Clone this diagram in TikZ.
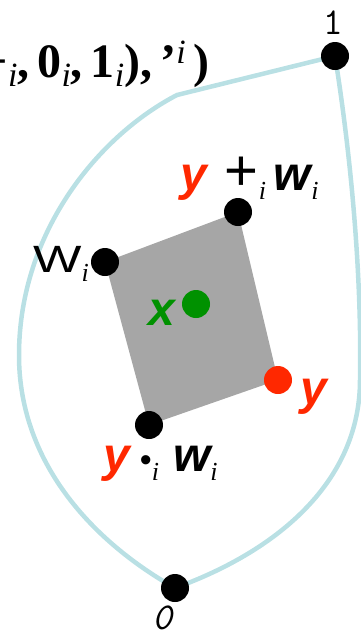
\documentclass[tikz,border=0pt]{standalone}
\usepackage{fontspec}
\setmainfont{Liberation Serif}
\setsansfont{Liberation Sans}
\usepackage{tikz}
\usetikzlibrary{backgrounds}
\definecolor{vred}{RGB}{255,40,0}
\definecolor{vgreen}{RGB}{0,145,0}
\definecolor{quadgray}{RGB}{166,166,166}
\definecolor{curveblue}{RGB}{185,224,228}
\newcommand{\isub}[2]{\raisebox{-#2}{\normalfont\fontsize{#1}{#1}\selectfont\itshape i}}
\newcommand{\vecy}{{\color{vred}\sffamily\bfseries\itshape y}}
\newcommand{\vecw}{{\sffamily\bfseries\itshape w}}

\begin{document}
\begin{tikzpicture}[
  x=1pt, y=-1pt,
  dot/.style={circle, fill=black, inner sep=0pt, minimum size=28pt},
  lbl/.style={inner sep=0pt, anchor=base west, font=\fontsize{48}{48}\selectfont},
  curve/.style={draw=curveblue, line width=4.5pt},
  quad/.style={fill=quadgray}
]
\useasboundingbox (0,0) rectangle (361,638);
\clip (0,0) rectangle (361,638);

\node[dot] (one) at (335,56) {};
\node[dot] (zero) at (175,588) {};
\node[dot] (wi) at (105,262) {};
\node[dot] (ypw) at (238,212) {};
\node[dot] (ytw) at (149,425) {};
\node[dot, fill=vred] (yvec) at (278,380) {};
\node[dot, fill=vgreen] (xvec) at (196,304) {};
\coordinate (kink) at (177,95);
\coordinate (leftmost) at (19,353);
\coordinate (rightmost) at (360,380);

\node[inner sep=0pt, anchor=base east, font=\fontsize{48}{48}\selectfont\bfseries] (title) at (210,77)
  {+\isub{34}{9pt},\hspace{8pt}0\isub{34}{9pt},\hspace{8pt}1\isub{34}{9pt}),\hspace{8pt}’\isub{34}{-14pt}\hspace{8pt})};

\node[inner sep=0pt, anchor=base, font=\fontsize{38}{38}\selectfont\ttfamily] (onelbl) at (333,34) {1};
\node[inner sep=0pt, anchor=base, font=\fontsize{38}{38}\selectfont\ttfamily\itshape] (zerolbl) at (162,629) {0};
\node[lbl, font=\fontsize{38}{38}\selectfont\sffamily] (wilbl) at (33,272) {\scalebox{1.35}[1]{W}\isub{26}{9pt}};
\node[lbl] (ypwlbl) at (180,190) {\vecy\hspace{18pt}{\sffamily\fontsize{58}{58}\selectfont +}\isub{26}{9pt}\hspace{8pt}\vecw\isub{26}{9pt}};
\node[lbl] (xlbl) at (148,325) {{\color{vgreen}\sffamily\bfseries\itshape x}};
\node[lbl] (ylbl) at (300,404) {\vecy};
\node[lbl] (ytwlbl) at (103,471) {\vecy\hspace{10pt}{\sffamily\fontsize{34}{34}\selectfont •}\isub{26}{9pt}\hspace{14pt}\vecw\isub{26}{9pt}};

\begin{pgfonlayer}{background}
\fill[quad] (wi.center) -- (ypw.center) -- (yvec.center) -- (ytw.center) -- cycle;
\draw[curve] (one.center) -- (kink) .. controls (100,135) and (20,230) .. (leftmost)
  .. controls (18,460) and (90,540) .. (zero.center);
\draw[curve] (one.center) .. controls (350,150) and (362,270) .. (rightmost)
  .. controls (360,480) and (280,550) .. (zero.center);
\end{pgfonlayer}

\end{tikzpicture}
\end{document}
